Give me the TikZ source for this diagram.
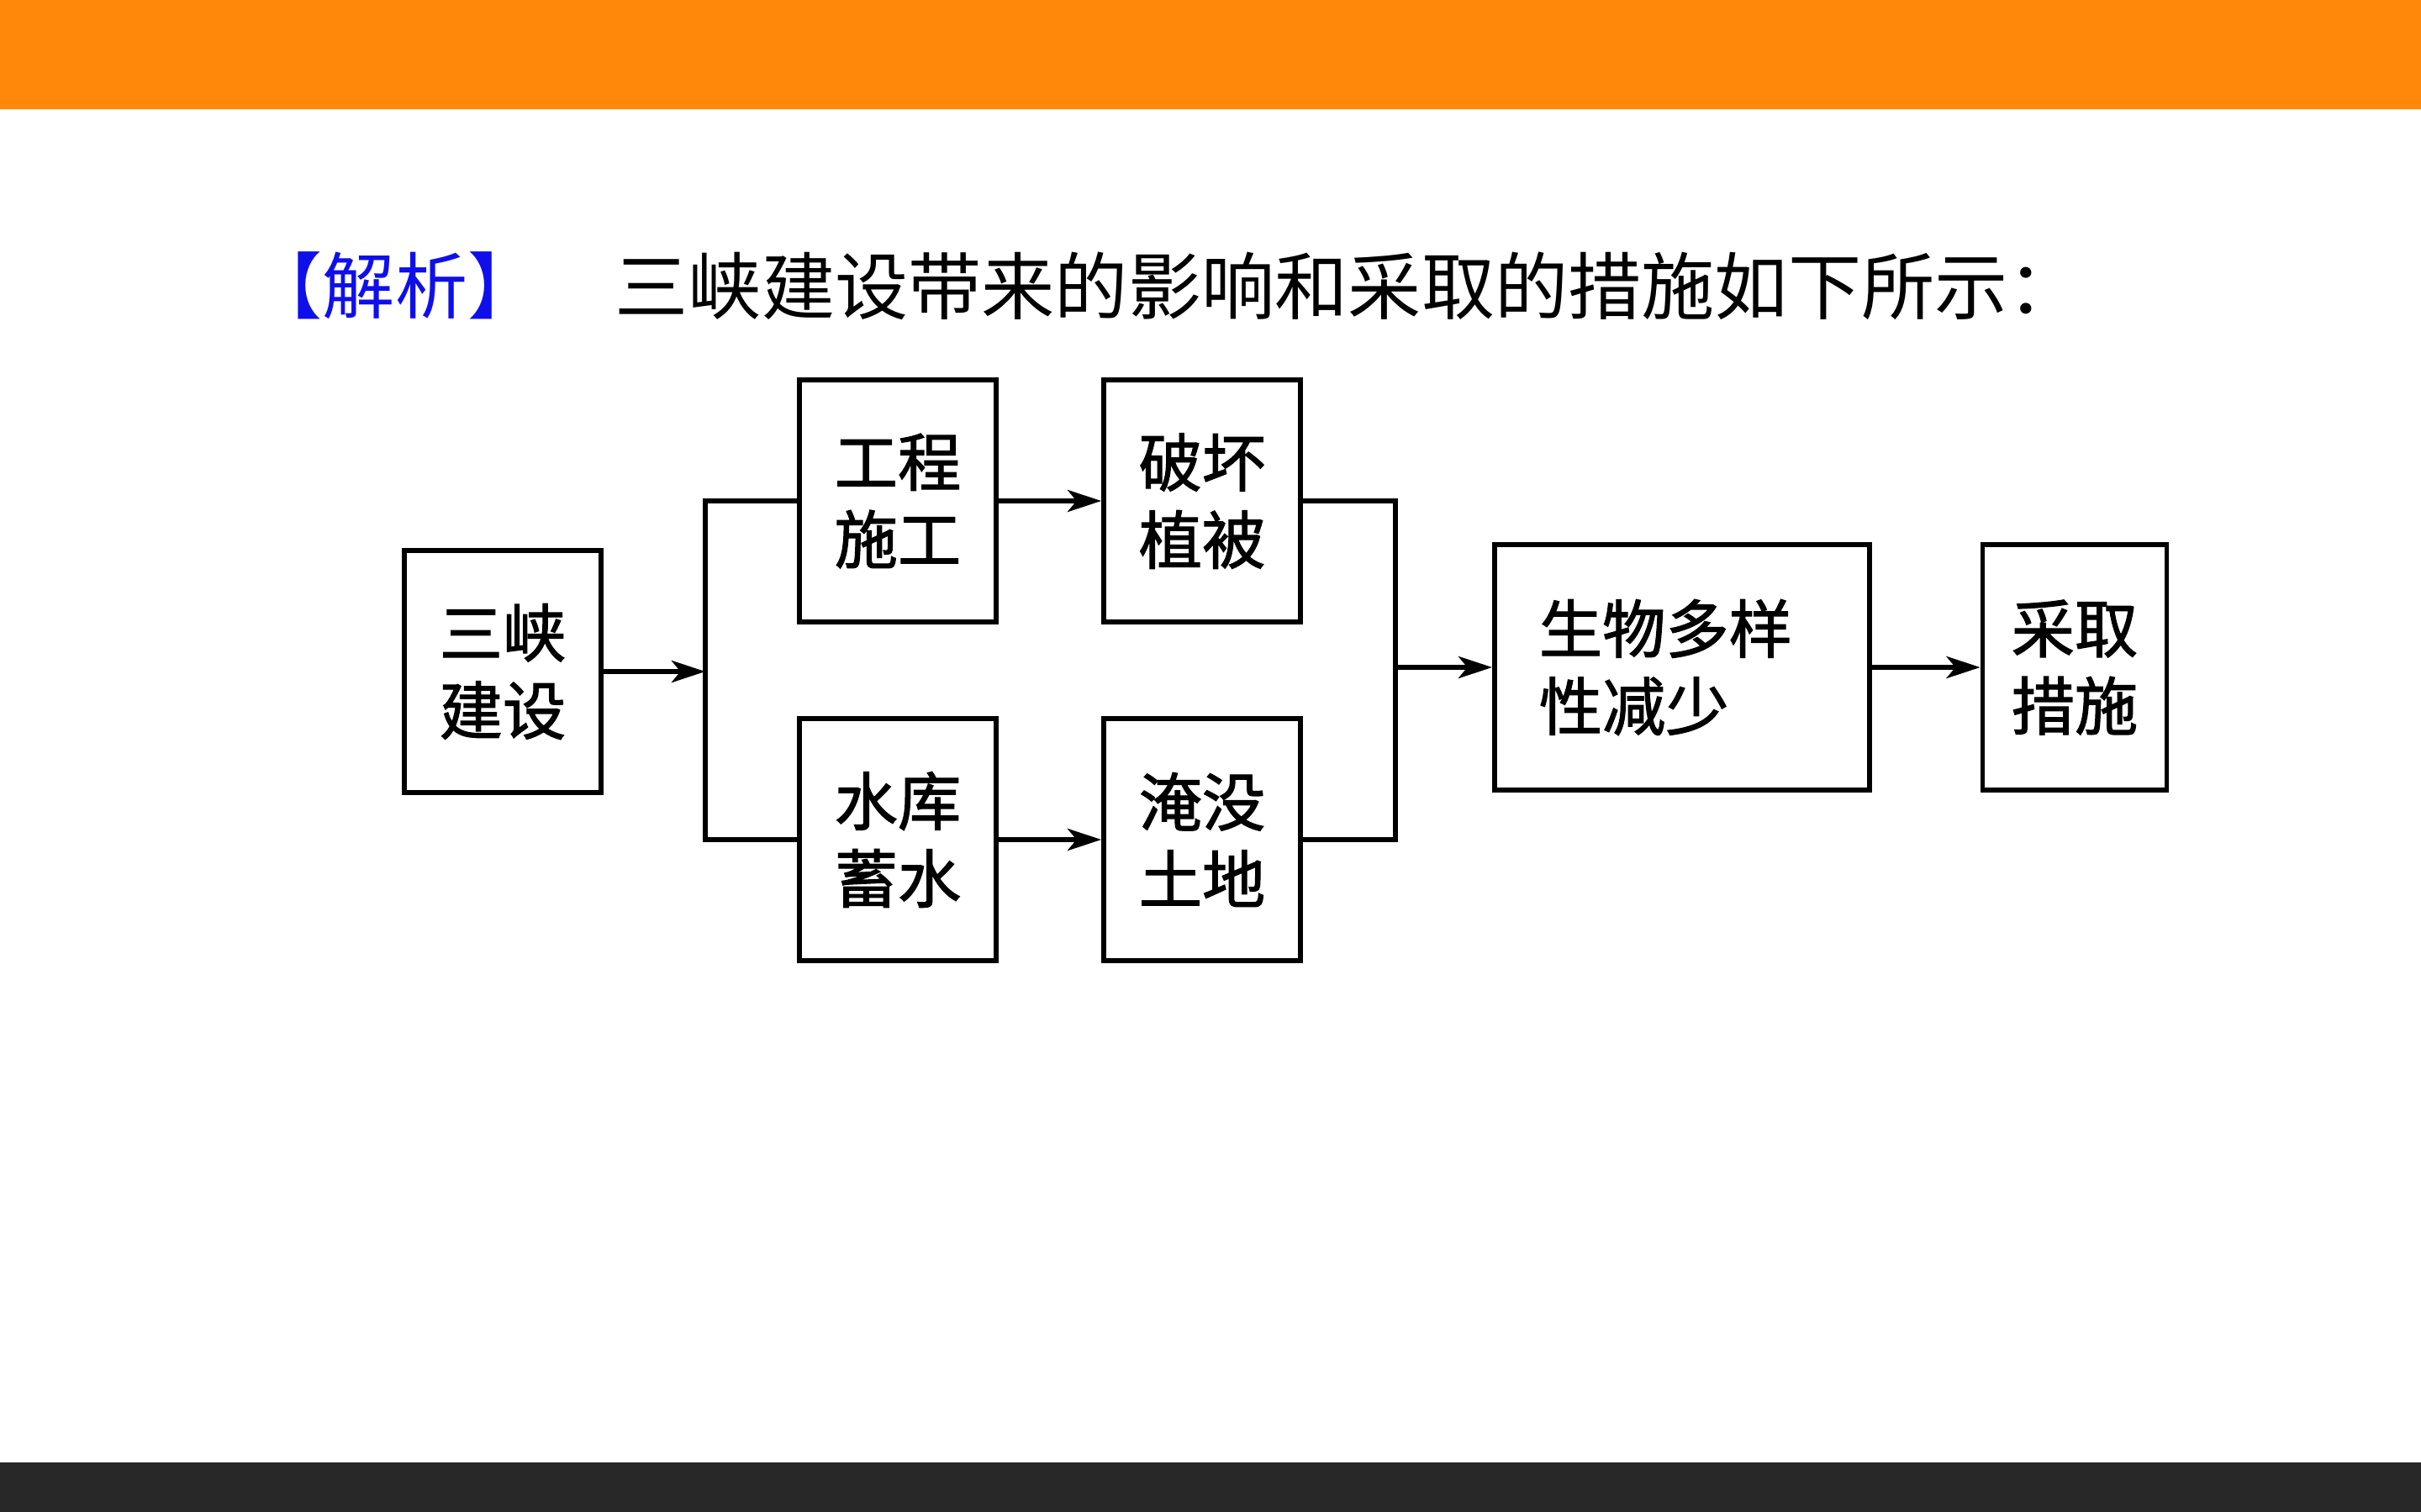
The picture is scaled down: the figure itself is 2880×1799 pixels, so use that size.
\documentclass[tikz,border=0pt]{standalone}
\usepackage{fontspec}
\setmainfont{Noto Sans CJK SC}
\newfontfamily\boxfont[FakeBold=1.6]{Noto Sans CJK SC}
\usepackage{tikz}
\usetikzlibrary{arrows.meta,positioning}
\definecolor{barorange}{RGB}{255,135,10}
\definecolor{bardark}{RGB}{40,40,40}
\definecolor{tagblue}{RGB}{15,15,235}

\begin{document}
\begin{tikzpicture}[x=0.01cm, y=-0.01cm, line join=miter, >=Stealth,
  box/.style={draw, line width=1.6pt, minimum width=2.34cm, minimum height=2.88cm,
    inner sep=0pt, align=center, font=\boxfont\fontsize{21.4}{26.2}\selectfont},
  link/.style={line width=1.6pt},
  flow/.style={line width=1.6pt, -{Stealth[length=11.4pt,width=7.4pt,inset=3pt]}}]
\useasboundingbox (0,0) rectangle (2880,1799);
% top and bottom bars
\fill[barorange] (0,0) rectangle (2880,130);
\fill[bardark] (0,1740) rectangle (2880,1799);
% heading
\node[anchor=west, inner sep=0pt, text=tagblue, font=\fontsize{24.5}{28}\selectfont] (tag) at (297,340) {【解析】};
\node[anchor=west, inner sep=0pt, font=\fontsize{24.8}{28}\selectfont] (intro) at (731,340) {三峡建设带来的影响和采取的措施如下所示：};
% boxes
\node[box] (sx) at (598,799) {三峡\\建设};
\node[box] (gc) at (1068,596) {工程\\施工};
\node[box] (ph) at (1430,596) {破坏\\植被};
\node[box] (sk) at (1068,999) {水库\\蓄水};
\node[box] (ym) at (1430,999) {淹没\\土地};
\node[box, minimum width=4.46cm, minimum height=2.92cm, text width=3.4cm, align=left] (sw) at (2001,794) {生物多样\\性减少};
\node[box, minimum width=2.19cm, minimum height=2.92cm] (cq) at (2468,794) {采取\\措施};
% fork and join
\coordinate (fork) at (839,799);
\coordinate (join) at (1660,794);
\draw[flow] (sx.east) -- (fork);
\draw[link] (fork) |- (gc.west);
\draw[link] (fork) |- (sk.west);
\draw[flow] (gc) -- (ph);
\draw[flow] (sk) -- (ym);
\draw[link] (ph.east) -| (join);
\draw[link] (ym.east) -| (join);
\draw[flow] (join) -- (sw.west);
\draw[flow] (sw) -- (cq);
\end{tikzpicture}
\end{document}
